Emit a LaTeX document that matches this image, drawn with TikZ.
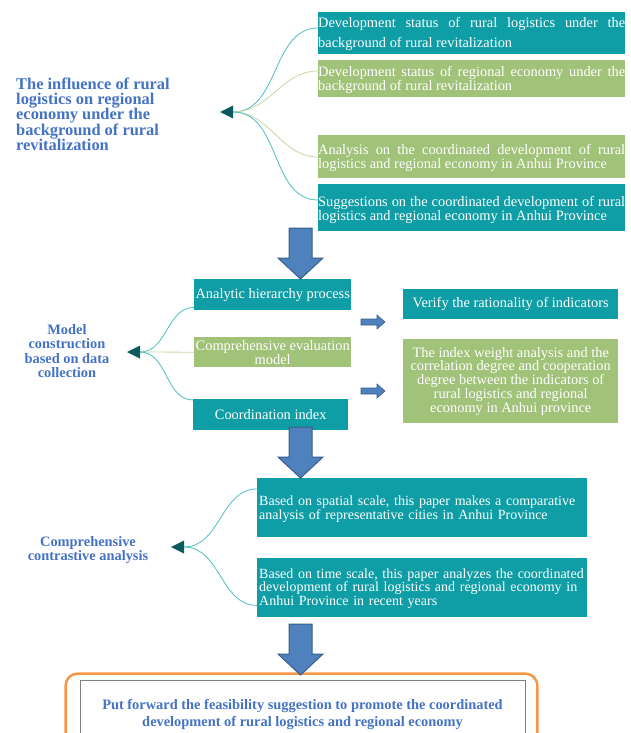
\documentclass[tikz,border=0pt]{standalone}
\usepackage{fontspec}
\setmainfont{Liberation Serif}

\definecolor{boxteal}{RGB}{16,158,166}
\definecolor{boxgreen}{RGB}{161,194,121}
\definecolor{headblue}{RGB}{68,114,196}
\definecolor{arrowfill}{RGB}{79,129,189}
\definecolor{arrowline}{RGB}{56,93,138}
\definecolor{hubdark}{RGB}{12,90,94}
\definecolor{linkcyan}{RGB}{75,190,198}
\definecolor{linklime}{RGB}{196,216,160}
\definecolor{frameorange}{RGB}{247,150,70}

\tikzset{
  tealbox/.style={fill=boxteal, text=white, inner sep=0pt, font=\fontsize{14.4}{12}\selectfont},
  greenbox/.style={fill=boxgreen, text=white, inner sep=0pt, font=\fontsize{14.4}{12}\selectfont},
  topbox/.style 2 args={anchor=north west, text width=307pt, align=justify, text height=#1, text depth=#2},
  midbox/.style={anchor=north west, align=center},
  lowbox/.style 2 args={anchor=north west, inner xsep=2pt, text width=326pt, align=left, text height=#1, text depth=#2},
  headtext/.style={text=headblue, inner sep=0pt, font=\bfseries\fontsize{14.4}{14.5}\selectfont},
  linkteal/.style={draw=linkcyan, line width=0.8pt},
  linkgreen/.style={draw=linklime, line width=0.8pt},
  hubtip/.style={fill=hubdark},
  blockarrow/.style={fill=arrowfill, draw=arrowline, line width=1pt, line join=miter},
  finalbox/.style={draw=gray, line width=0.8pt, minimum width=445pt, minimum height=70pt, align=center,
    text=headblue, font=\bfseries\fontsize{14.4}{17}\selectfont}
}

\begin{document}
\hyphenpenalty=10000
\exhyphenpenalty=10000
\begin{tikzpicture}[x=1pt, y=-1pt]
  \useasboundingbox (0,0) rectangle (631,733);

  % background part
  \node[headtext, anchor=west, align=left, font=\bfseries\fontsize{16.4}{15}\selectfont] (topic) at (16,114)
    {The influence of rural\\logistics on regional\\economy under the\\background of rural\\revitalization};
  \node[tealbox, topbox={15pt}{27pt}, font=\fontsize{14.4}{20}\selectfont] (s1) at (318,12)
    {Development status of rural logistics under the\linebreak background of rural revitalization};
  \node[greenbox, topbox={16pt}{21pt}] (s2) at (318,60)
    {Development status of regional economy under the\linebreak background of rural revitalization};
  \node[greenbox, topbox={19pt}{24pt}] (s3) at (318,135)
    {Analysis on the coordinated development of rural\linebreak logistics and regional economy in Anhui Province};
  \node[tealbox, topbox={22pt}{25pt}] (s4) at (318,184)
    {Suggestions on the coordinated development of rural\linebreak logistics and regional economy in Anhui Province};

  \coordinate (hub1) at (233,112);
  \draw[linkteal] (hub1) to[out=0, in=180] ([yshift=-16pt]s1.north west);
  \draw[linkgreen] (hub1) to[out=0, in=180] ([yshift=-11pt]s2.north west);
  \draw[linkgreen] (hub1) to[out=0, in=180] ([yshift=-22pt]s3.north west);
  \draw[linkteal] (hub1) to[out=0, in=180] ([yshift=-16pt]s4.north west);

  % model part
  \node[headtext, align=center] (model) at (67,351) {Model\\construction\\based on data\\collection};
  \node[tealbox, midbox, minimum width=157pt, minimum height=31pt] (ahp) at (194,279) {Analytic hierarchy process};
  \node[greenbox, midbox, minimum width=157pt, minimum height=30pt, font=\fontsize{14.4}{11}\selectfont] (cem) at (194,337)
    {Comprehensive evaluation\\model};
  \node[tealbox, midbox, minimum width=155pt, minimum height=31pt] (ci) at (193,399) {Coordination index};
  \node[tealbox, midbox, minimum width=215pt, minimum height=30pt] (ver) at (403,289) {Verify the rationality of indicators};
  \node[greenbox, midbox, minimum width=215pt, minimum height=84pt, font=\fontsize{14.4}{13.7}\selectfont] (iw) at (403,339)
    {The index weight analysis and the\\correlation degree and cooperation\\degree between the indicators of\\rural logistics and regional\\economy in Anhui province};

  \coordinate (hub2) at (140,352);
  \draw[linkteal] (hub2) to[out=0, in=180] ([yshift=3pt]ahp.south west);
  \draw[linkgreen] (hub2) -- (cem.west);
  \draw[linkteal] (hub2) to[out=0, in=180] ([yshift=-1pt]ci.north west);

  % comparison part
  \node[headtext, align=center, font=\bfseries\fontsize{14.4}{13}\selectfont] (cmp) at (88,550)
    {Comprehensive\\contrastive analysis};
  \node[tealbox, lowbox={27pt}{32pt}, font=\fontsize{14}{12}\selectfont] (sp) at (257,478)
    {Based on spatial scale, this paper makes a comparative\\analysis of representative cities in Anhui Province};
  \node[tealbox, lowbox={20pt}{39pt}, font=\fontsize{14}{13.5}\selectfont] (tm) at (257,558)
    {Based on time scale, this paper analyzes the coordinated\\development of rural logistics and regional economy in\\Anhui Province in recent years};

  \coordinate (hub3) at (184,547);
  \draw[linkteal] (hub3) to[out=0, in=180] ([yshift=-11pt]sp.north west);
  \draw[linkteal] (hub3) to[out=0, in=180] ([yshift=12pt]tm.south west);

  \foreach \h in {hub1,hub2,hub3}
    \fill[hubtip] (\h) -- ++(0,-6.5) -- ++(-13,6.5) -- ++(13,6.5) -- cycle;

  % conclusion
  \node[finalbox] (fin) at (302.5,715)
    {Put forward the feasibility suggestion to promote the coordinated\\development of rural logistics and regional economy};
  \draw[frameorange, line width=2.5pt, rounded corners=12pt]
    ([xshift=-14pt,yshift=6pt]fin.north west) rectangle ([xshift=12pt,yshift=-10pt]fin.south east);

  % big arrows between the parts
  \foreach \t in {228,427,624}
    \draw[blockarrow] (289,\t) -- ++(23,0) -- ++(0,30) -- ++(11,0) -- ++(-22.5,21)
      -- ++(-22.5,-21) -- ++(11,0) -- cycle;
  % small arrows towards the results
  \foreach \y in {322,391}
    \draw[blockarrow, line width=0.6pt] (361,\y-3) -- ++(16,0) -- ++(0,-4) -- ++(8,7)
      -- ++(-8,7) -- ++(0,-4) -- ++(-16,0) -- cycle;
\end{tikzpicture}
\end{document}
